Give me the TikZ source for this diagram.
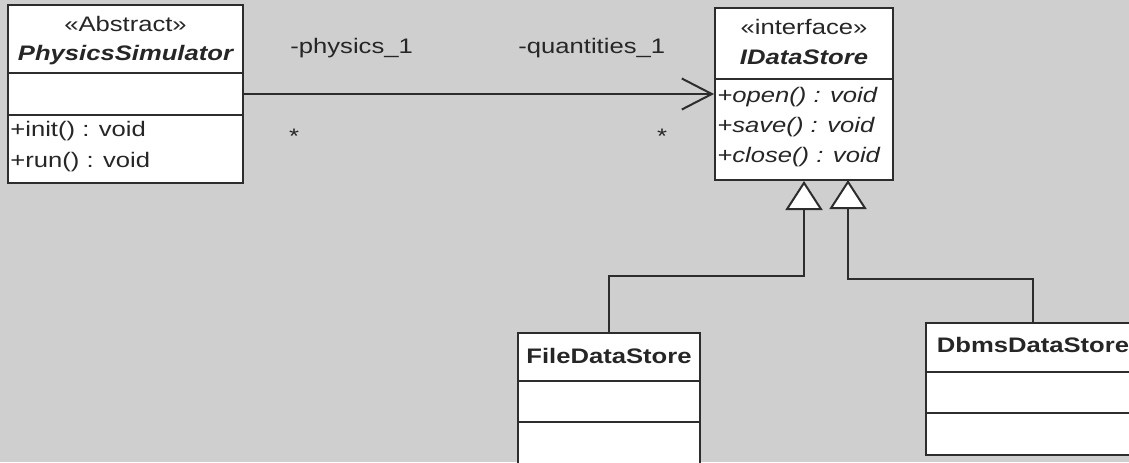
\documentclass[tikz,border=0pt]{standalone}
\usepackage{fontspec}
\setmainfont{Liberation Sans}[FakeStretch=1.22]
\usetikzlibrary{arrows.meta}
\definecolor{bgc}{RGB}{207,207,207}
\definecolor{ln}{RGB}{45,45,45}
\begin{document}
\begin{tikzpicture}[x=0.5pt,y=-0.5pt,
  font=\fontsize{10.5}{13}\selectfont,
  cls/.style={draw=ln,fill=white,line width=1pt,inner sep=0pt,rectangle},
  sep/.style={draw=ln,line width=1pt},
  txt/.style={inner sep=0pt,text=black!85},
  lbl/.style={inner sep=0pt,anchor=west,text=black!85},
  assoc/.style={draw=ln,line width=1pt,-{Straight Barb[length=15pt,width=15.5pt]}},
  gen/.style={draw=ln,line width=1pt,-{Triangle[length=14.5pt,width=18.5pt,fill=white]}}]
\useasboundingbox (0,0) rectangle (1129,462);
\fill[bgc] (0,0) rectangle (1129,462);

% PhysicsSimulator
\node[cls,minimum width=117.5pt,minimum height=89pt] (ps) at (125.5,94) {};
\draw[sep] (ps.west |- 0,73) -- (ps.east |- 0,73);
\draw[sep] (ps.west |- 0,115) -- (ps.east |- 0,115);
\node[txt] (psst) at (125.5,24) {«Abstract»};
\node[txt] (psnm) at (125.5,55) {\bfseries\itshape PhysicsSimulator};
\node[lbl] (psm1) at (10,131) {+init() : void};
\node[lbl] (psm2) at (10,162) {+run() : void};

% IDataStore
\node[cls,minimum width=89pt,minimum height=86pt] (ids) at (804,94) {};
\draw[sep] (ids.west |- 0,79) -- (ids.east |- 0,79);
\node[txt] (idsst) at (804,27) {«interface»};
\node[txt] (idsnm) at (804,57) {\bfseries\itshape IDataStore};
\node[lbl] (idsm1) at (717,97) {\itshape +open() : void};
\node[lbl] (idsm2) at (717,127) {\itshape +save() : void};
\node[lbl] (idsm3) at (717,157) {\itshape +close() : void};

% FileDataStore
\node[cls,minimum width=91pt,minimum height=66pt] (fds) at (609,399) {};
\draw[sep] (fds.west |- 0,381) -- (fds.east |- 0,381);
\draw[sep] (fds.west |- 0,422) -- (fds.east |- 0,422);
\node[txt] (fdsnm) at (609,356) {\bfseries FileDataStore};

% DbmsDataStore
\node[cls,minimum width=107pt,minimum height=66pt] (dds) at (1033,389) {};
\draw[sep] (dds.west |- 0,372) -- (dds.east |- 0,372);
\draw[sep] (dds.west |- 0,413) -- (dds.east |- 0,413);
\node[txt] (ddsnm) at (1033,345) {\bfseries DbmsDataStore};

% association
\draw[assoc] (ps.east) -- (ids.west);
\node[lbl] (r1) at (290,48) {-physics\_1};
\node[lbl] (r2) at (518,48) {-quantities\_1};
\node[txt] (m1) at (294,136) {*};
\node[txt] (m2) at (662,136) {*};

% generalizations
\coordinate (k1) at (804,276);
\coordinate (k2) at (848,279);
\coordinate (t2) at (848,180);
\draw[gen] (fds.north) |- (k1) -- (ids.south);
\draw[gen] (dds.north) |- (k2) -- (t2);
\end{tikzpicture}
\end{document}
